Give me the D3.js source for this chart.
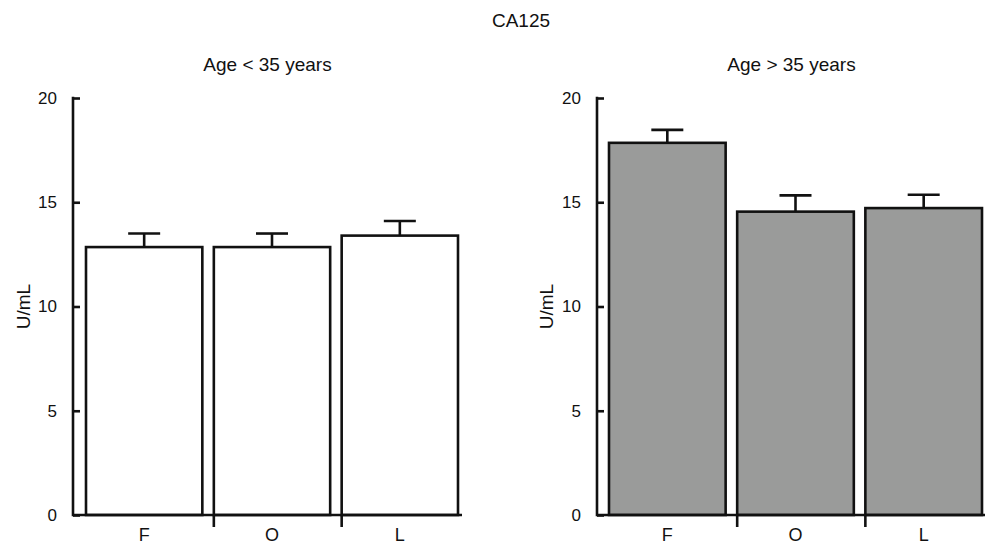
<!DOCTYPE html>
<html>
<head>
<meta charset="utf-8">
<script src="https://cdn.jsdelivr.net/npm/d3@7"></script>
<style>
  body { margin: 0; background: #fff; }
  svg { display: block; font-family: "Liberation Sans", Arial, Helvetica, sans-serif; }
</style>
</head>
<body>
<div id="chart"></div>
<script>
// data
const categories = ["F", "O", "L"];
const youngMeans = [12.85, 12.85, 13.4];
const youngErrors = [0.65, 0.65, 0.7];
const oldMeans = [17.85, 14.55, 14.72];
const oldErrors = [0.62, 0.78, 0.64];
const yTicks = [0, 5, 10, 15, 20];

const width = 985;
const height = 548;

const svg = d3
  .select("#chart")
  .append("svg")
  .attr("width", width)
  .attr("height", height)
  .attr("viewBox", [0, 0, width, height]);

// main title
svg
  .append("text")
  .attr("x", 521)
  .attr("y", 27)
  .attr("text-anchor", "middle")
  .attr("font-size", 19)
  .attr("fill", "#111")
  .text("CA125");

function drawPanel({
  axisX,
  barLeft,
  barRight,
  means,
  errors,
  fill,
  title,
  yLabelX,
}) {
  const yBottom = 515;
  const yTop = 98;
  const axisRight = barRight + 4;

  const y = d3.scaleLinear([0, 20], [yBottom, yTop]);
  const x = d3
    .scaleBand(categories, [barLeft, barRight])
    .paddingInner(0.09)
    .paddingOuter(0);

  const g = svg.append("g");

  // y axis, ticks pointing inward
  g.append("g")
    .attr("transform", `translate(${axisX},0)`)
    .call(d3.axisLeft(y).tickValues(yTicks).tickSize(-7).tickPadding(16))
    .call((a) => a.select(".domain").remove())
    .call((a) =>
      a
        .selectAll(".tick line")
        .attr("stroke", "#111")
        .attr("stroke-width", 2.6)
    )
    .call((a) =>
      a
        .selectAll(".tick text")
        .attr("font-size", 17)
        .attr("fill", "#111")
        .attr("font-family", "Liberation Sans, Arial, sans-serif")
    );

  // bars
  g.append("g")
    .selectAll("rect")
    .data(categories)
    .join("rect")
    .attr("x", (d) => x(d))
    .attr("y", (d, i) => y(means[i]))
    .attr("width", x.bandwidth())
    .attr("height", (d, i) => y(0) - y(means[i]))
    .attr("fill", fill)
    .attr("stroke", "#111")
    .attr("stroke-width", 2.6);

  // error bars
  const err = g.append("g").attr("stroke", "#111").attr("stroke-width", 2.6);
  err
    .selectAll("line.stem")
    .data(categories)
    .join("line")
    .attr("class", "stem")
    .attr("x1", (d) => x(d) + x.bandwidth() / 2)
    .attr("x2", (d) => x(d) + x.bandwidth() / 2)
    .attr("y1", (d, i) => y(means[i]))
    .attr("y2", (d, i) => y(means[i] + errors[i]));
  err
    .selectAll("line.cap")
    .data(categories)
    .join("line")
    .attr("class", "cap")
    .attr("x1", (d) => x(d) + x.bandwidth() / 2 - 16)
    .attr("x2", (d) => x(d) + x.bandwidth() / 2 + 16)
    .attr("y1", (d, i) => y(means[i] + errors[i]))
    .attr("y2", (d, i) => y(means[i] + errors[i]));

  // axis lines
  g.append("line")
    .attr("x1", axisX)
    .attr("x2", axisX)
    .attr("y1", yTop - 1.3)
    .attr("y2", yBottom + 1.3)
    .attr("stroke", "#111")
    .attr("stroke-width", 2.6);
  g.append("line")
    .attr("x1", axisX)
    .attr("x2", axisRight)
    .attr("y1", yBottom)
    .attr("y2", yBottom)
    .attr("stroke", "#111")
    .attr("stroke-width", 2.6);

  // category separators below the axis
  g.append("g")
    .selectAll("line")
    .data(categories.slice(1))
    .join("line")
    .attr("x1", (d) => x(d))
    .attr("x2", (d) => x(d))
    .attr("y1", yBottom)
    .attr("y2", yBottom + 12)
    .attr("stroke", "#111")
    .attr("stroke-width", 2.6);

  // category labels
  g.append("g")
    .selectAll("text")
    .data(categories)
    .join("text")
    .attr("x", (d) => x(d) + x.bandwidth() / 2)
    .attr("y", 541)
    .attr("text-anchor", "middle")
    .attr("font-size", 18)
    .attr("fill", "#111")
    .text((d) => d);

  // panel title
  g.append("text")
    .attr("x", (axisX + axisRight) / 2)
    .attr("y", 71)
    .attr("text-anchor", "middle")
    .attr("font-size", 19)
    .attr("fill", "#111")
    .text(title);

  // y label
  g.append("text")
    .attr("transform", `translate(${yLabelX},${y(10)}) rotate(-90)`)
    .attr("text-anchor", "middle")
    .attr("font-size", 19)
    .attr("fill", "#111")
    .text("U/mL");
}

drawPanel({
  axisX: 73,
  barLeft: 86,
  barRight: 458,
  means: youngMeans,
  errors: youngErrors,
  fill: "#fff",
  title: "Age < 35 years",
  yLabelX: 30,
});

drawPanel({
  axisX: 597,
  barLeft: 609,
  barRight: 982,
  means: oldMeans,
  errors: oldErrors,
  fill: "#9a9b9a",
  title: "Age > 35 years",
  yLabelX: 553,
});
</script>
</body>
</html>
